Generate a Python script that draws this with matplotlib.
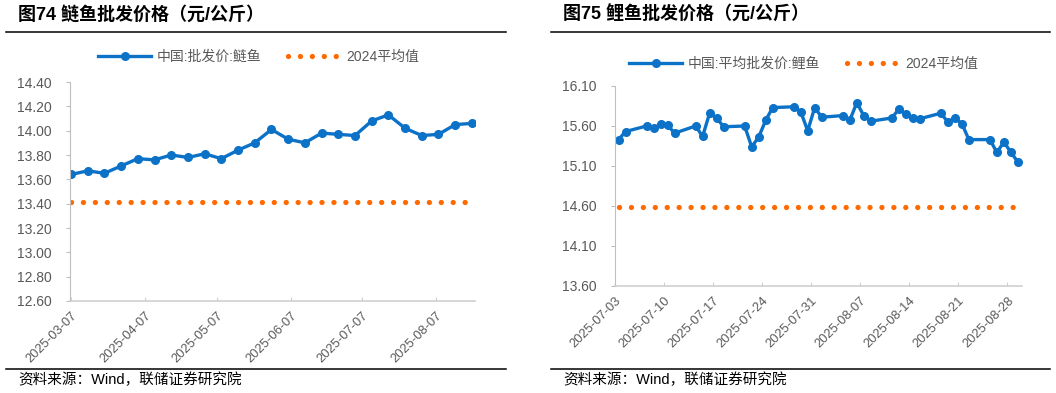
import numpy as np
import pandas as pd
import matplotlib
matplotlib.use("Agg")
import matplotlib.pyplot as plt
import matplotlib.dates as mdates
from matplotlib.lines import Line2D

plt.rcParams['font.family'] = ['Liberation Sans', 'Noto Sans CJK SC', 'DejaVu Sans']

# left chart: silver carp wholesale price, weekly
silver_dates = pd.date_range("2025-03-07", periods=25, freq="7D")
silver_price = [13.64, 13.67, 13.65, 13.71, 13.77, 13.76, 13.80, 13.78, 13.81, 13.77,
                13.84, 13.90, 14.01, 13.93, 13.90, 13.98, 13.97, 13.96, 14.08, 14.13,
                14.02, 13.96, 13.97, 14.05, 14.06]
silver_avg = 13.41

# right chart: common carp average wholesale price, business days
carp_dates = pd.bdate_range("2025-07-03", "2025-08-29")
carp_price = [15.43, 15.53, 15.60, 15.57, 15.62, 15.61, 15.51, 15.60, 15.47, 15.76,
              15.70, 15.59, 15.60, 15.34, 15.46, 15.67, 15.83, 15.84, 15.78, 15.54,
              15.83, 15.71, 15.73, 15.67, 15.89, 15.73, 15.66, 15.70, 15.81, 15.75,
              15.70, 15.69, 15.76, 15.65, 15.70, 15.63, 15.43, 15.43, 15.27, 15.40,
              15.27, 15.15]
carp_avg = 14.59

blue = '#0B72C8'
orange = '#FF6A00'
gray = '#595959'

fig = plt.figure(figsize=(10.56, 3.93), dpi=100)


def draw(ax, dates, price, avg, name, ylim, yticks, xticks, xlim):
    ax.plot(dates, price, color=blue, lw=2.4, marker='o', ms=5.5, label=name)
    ax.plot(dates, [avg] * len(dates), color=orange, lw=3.8,
            linestyle=(0, (0.01, 2.25)), dash_capstyle='round', label='2024平均值')
    ax.set_ylim(*ylim)
    ax.set_yticks(yticks)
    ax.set_yticklabels(['%.2f' % v for v in yticks])
    ax.set_xlim(*xlim)
    ax.set_xticks(xticks)
    ax.xaxis.set_major_formatter(mdates.DateFormatter('%Y-%m-%d'))
    for s in ['top', 'right']:
        ax.spines[s].set_visible(False)
    ax.spines['left'].set_color('#BFBFBF')
    ax.spines['bottom'].set_color('#D0D0D0')
    ax.spines['bottom'].set_linewidth(1.2)
    ax.tick_params(axis='y', colors='#BFBFBF', labelcolor=gray, labelsize=10,
                   length=3, pad=10)
    ax.tick_params(axis='x', colors='#D0D0D0', labelcolor=gray, labelsize=9.3,
                   direction='in', length=3, pad=6)
    for lab in ax.get_xticklabels():
        lab.set_rotation(45)
        lab.set_ha('right')
        lab.set_rotation_mode('anchor')


ax1 = fig.add_axes([0.0663, 0.2341, 0.3835, 0.5572])
draw(ax1, silver_dates, silver_price, silver_avg, '中国:批发价:鲢鱼',
     (12.6, 14.4), np.arange(12.6, 14.41, 0.2),
     pd.to_datetime(['2025-03-07', '2025-04-07', '2025-05-07', '2025-06-07',
                     '2025-07-07', '2025-08-07']),
     (pd.Timestamp('2025-03-06 14:00'), pd.Timestamp('2025-08-23 07:00')))
ax1.legend(loc='center', bbox_to_anchor=(0.245, 0.855), bbox_transform=fig.transFigure,
           ncol=2, frameon=False, fontsize=10, labelcolor=gray, handlelength=3.8,
           handletextpad=0.4, columnspacing=1.9, numpoints=1)

ax2 = fig.add_axes([0.5824, 0.2723, 0.3854, 0.5089])
carp_x = carp_dates + pd.Timedelta(hours=12)
draw(ax2, carp_x, carp_price, carp_avg, '中国:平均批发价:鲤鱼',
     (13.6, 16.1), np.arange(13.6, 16.11, 0.5),
     pd.date_range('2025-07-03', periods=9, freq='7D'),
     (pd.Timestamp('2025-07-03'), pd.Timestamp('2025-08-30 02:00')))
ax2.legend(loc='center', bbox_to_anchor=(0.761, 0.837), bbox_transform=fig.transFigure,
           ncol=2, frameon=False, fontsize=10, labelcolor=gray, handlelength=3.8,
           handletextpad=0.4, columnspacing=1.9, numpoints=1)

# titles, rules and source notes
fig.text(18 / 1056, 1 - 15 / 393, '图74 鲢鱼批发价格（元/公斤）', fontsize=13,
         fontweight='bold', va='center', ha='left')
fig.text(563 / 1056, 1 - 15 / 393, '图75 鲤鱼批发价格（元/公斤）', fontsize=13,
         fontweight='bold', va='center', ha='left')
for x0, x1 in [(6, 506), (551, 1050)]:
    for y in [32, 369]:
        fig.add_artist(Line2D([x0 / 1056, x1 / 1056], [1 - y / 393, 1 - y / 393],
                              color='black', lw=1.1))
fig.text(18 / 1056, 1 - 380 / 393, '资料来源：Wind，联储证券研究院', fontsize=10.5,
         va='center', ha='left')
fig.text(563 / 1056, 1 - 380 / 393, '资料来源：Wind，联储证券研究院', fontsize=10.5,
         va='center', ha='left')

fig.savefig('out.png', dpi=100)
